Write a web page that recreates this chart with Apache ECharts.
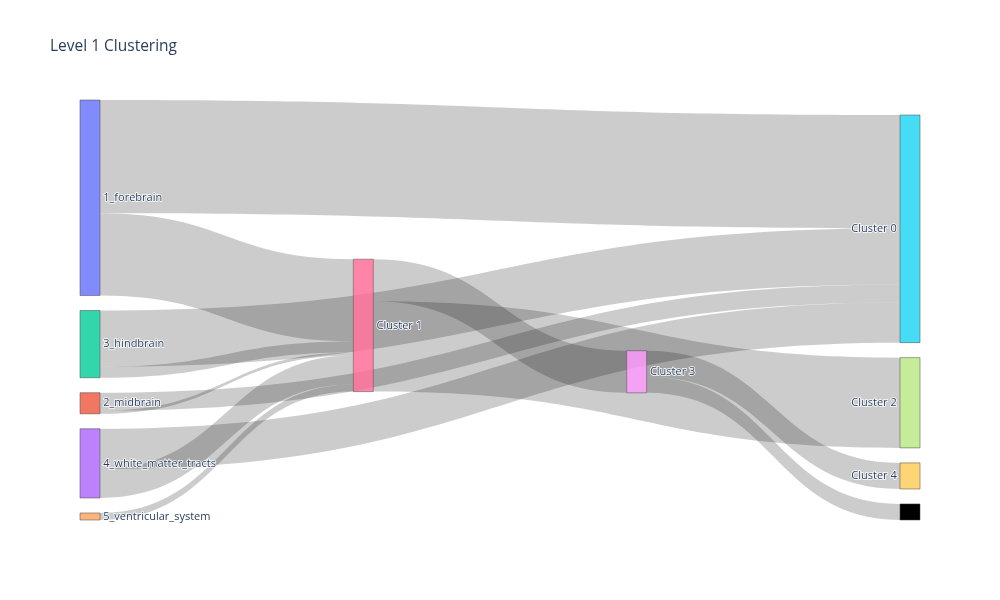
<!DOCTYPE html>
<html>
<head>
<meta charset="utf-8">
<script src="https://cdn.jsdelivr.net/npm/echarts@6/dist/echarts.min.js"></script>
<style>html,body{margin:0;padding:0;background:#fff}#c{width:1000px;height:600px}</style>
</head>
<body>
<div id="c"></div>
<script>
// Nodes (name, colour, label shown?)
var nodeNames = ['1_forebrain','3_hindbrain','2_midbrain','4_white_matter_tracts','5_ventricular_system',
                 'Cluster 1','Cluster 3','Cluster 0','Cluster 2','Cluster 4','Cluster 5'];
var nodeColors = ['rgba(99,110,250,0.8)','rgba(0,204,150,0.8)','rgba(239,85,59,0.8)','rgba(171,99,250,0.8)','rgba(255,161,90,0.8)',
                  'rgba(255,102,146,0.8)','rgba(255,151,255,0.8)','rgba(25,211,243,0.8)','rgba(182,232,128,0.8)','rgba(254,203,82,0.8)','#000000'];
var nodeLabelShown = [true,true,true,true,true,true,true,true,true,true,false];
var lastColumn = ['Cluster 0','Cluster 2','Cluster 4','Cluster 5'];

// Links
var linkSources = ['1_forebrain','1_forebrain','3_hindbrain','3_hindbrain','2_midbrain','2_midbrain',
                   '4_white_matter_tracts','4_white_matter_tracts','5_ventricular_system',
                   'Cluster 1','Cluster 1','Cluster 3','Cluster 3'];
var linkTargets = ['Cluster 0','Cluster 1','Cluster 0','Cluster 1','Cluster 0','Cluster 1',
                   'Cluster 0','Cluster 1','Cluster 1',
                   'Cluster 3','Cluster 2','Cluster 4','Cluster 5'];
var linkValues = [113, 82, 56, 11, 18, 3, 40, 29, 7, 42, 90, 26, 16];

var nodes = nodeNames.map(function (n, i) {
  return {
    name: n,
    itemStyle: { color: nodeColors[i], borderColor: '#444', borderWidth: 0.5 },
    label: { show: nodeLabelShown[i], position: lastColumn.indexOf(n) >= 0 ? 'left' : 'right' }
  };
});
var links = linkValues.map(function (v, i) {
  return { source: linkSources[i], target: linkTargets[i], value: v };
});

var chart = echarts.init(document.getElementById('c'), null, { renderer: 'canvas' });
chart.setOption({
  animation: false,
  title: {
    text: 'Level 1 Clustering', left: 50, top: 39, padding: 0,
    textStyle: { fontFamily: 'Open Sans', fontSize: 15.5, fontWeight: 'normal', color: '#2a3f5f' }
  },
  series: [{
    type: 'sankey',
    left: 80, right: 80, top: 100, bottom: 80,
    nodeWidth: 20, nodeGap: 15,
    nodeAlign: 'justify',
    layoutIterations: 50,
    data: nodes,
    links: links,
    emphasis: { disabled: true },
    label: {
      fontFamily: 'Open Sans', fontSize: 11, color: '#2a3f5f',
      textBorderColor: '#fff', textBorderWidth: 1.5, distance: 3
    },
    lineStyle: { color: '#000', opacity: 0.2, curveness: 0.5 }
  }]
});
</script>
</body>
</html>
